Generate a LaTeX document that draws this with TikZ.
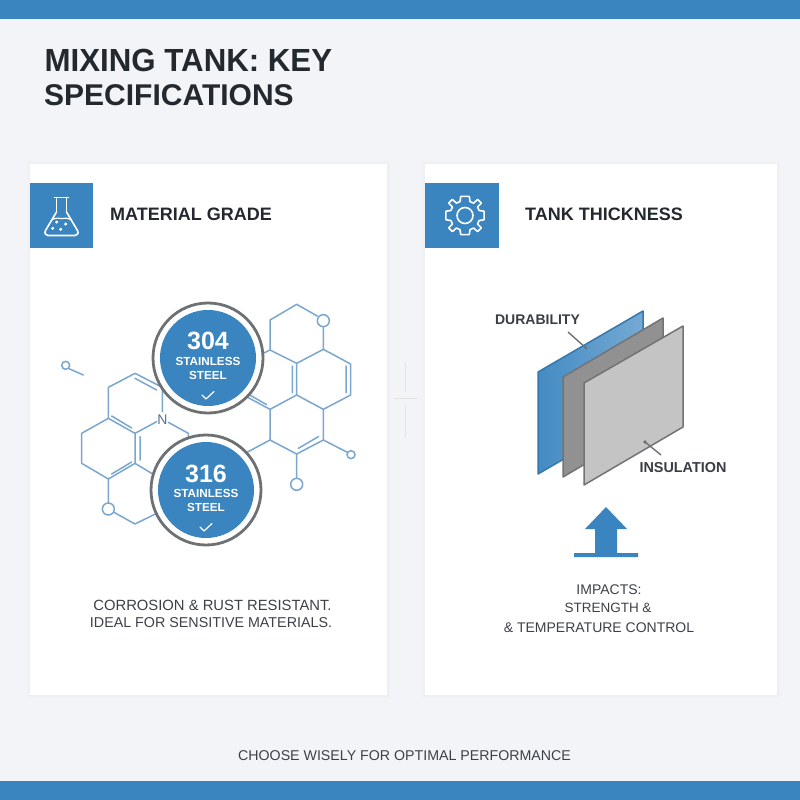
\documentclass[tikz,border=0pt]{standalone}
\usepackage{fontspec}
\setmainfont{Liberation Sans}
\definecolor{bgc}{HTML}{F2F4F7}
\definecolor{barc}{HTML}{3A85C0}
\definecolor{bluec}{HTML}{3A85C0}
\definecolor{molc}{HTML}{7AA6CF}
\definecolor{inkc}{HTML}{24292F}
\definecolor{bodyc}{HTML}{3D4147}
\definecolor{ringc}{HTML}{6E7174}
\newcommand{\fs}[1]{\fontsize{#1}{#1}\selectfont}
\newcommand{\Z}[2]{({40+(#1)/3},{280+(#2)/3})}
\tikzset{
  cardbox/.style={fill=white,draw=none},
  headbox/.style={fill=bluec,draw=none},
  mol/.style={draw=molc,line width=1.5pt,line join=round,line cap=round},
  atom/.style={draw=molc,line width=1.5pt,fill=white},
  titletext/.style={font=\fs{32}\bfseries,text=inkc,anchor=west,inner sep=0pt},
  headtext/.style={font=\fs{18}\bfseries,text=inkc,anchor=west,inner sep=0pt},
  bodytext/.style={font=\fs{14},text=bodyc,anchor=center,inner sep=0pt},
  calltext/.style={font=\fs{14}\bfseries,text=inkc!90!white,anchor=center,inner sep=0pt},
  badgeblue/.style={circle,fill=bluec,draw=none,minimum size=96pt,inner sep=0pt},
  badgering/.style={circle,fill=white,draw=ringc,line width=2.8pt,minimum size=110pt,inner sep=0pt},
  badgenum/.style={text=white,font=\fs{25}\bfseries,inner sep=0pt},
  badgesub/.style={text=white,font=\fs{11.7}\bfseries,inner sep=0pt},
  leader/.style={draw=ringc,line width=1.4pt},
  iconline/.style={draw=white,line width=1.6pt,line join=round,line cap=round},
}
\begin{document}
\begin{tikzpicture}[x=1pt,y=-1pt]
\useasboundingbox (0,0) rectangle (800,800);
\fill[bgc] (0,0) rectangle (800,800);
\fill[barc] (0,0) rectangle (800,19);
\fill[barc] (0,781) rectangle (800,800);
% faint cross between the cards
\draw[draw=black!11,line width=1pt] (405.7,362)--(405.7,392) (405.7,405)--(405.7,438) (394,398.7)--(417,398.7);
% title
\node[titletext] (t1) at (44.5,60) {\scalebox{.976}[1]{MIXING TANK: KEY}};
\node[titletext,font=\fs{30}\bfseries] (t2) at (44,95.5) {SPECIFICATIONS};
% cards
\foreach \d/\o in {3/.008,1.5/.012}{
  \fill[black,opacity=\o] (30-\d,164-\d) rectangle (387+\d,695+\d);
  \fill[black,opacity=\o] (425-\d,164-\d) rectangle (777+\d,695+\d);
}
\node[cardbox,minimum width=357pt,minimum height=531pt,inner sep=0pt] (cardL) at (208.5,429.5) {};
\node[cardbox,minimum width=352pt,minimum height=531pt,inner sep=0pt] (cardR) at (601,429.5) {};
% header icons
\node[headbox,minimum width=63pt,minimum height=65pt,inner sep=0pt] (iconL) at (61.5,215.5) {};
\node[headbox,minimum width=74pt,minimum height=65pt,inner sep=0pt] (iconR) at (462,215.5) {};
\node[headtext] (hL) at (110,214.5) {MATERIAL GRADE};
\node[headtext] (hR) at (525,214.5) {TANK THICKNESS};
% flask
\draw[iconline] (54.5,197.5)--(68.5,197.5) (56.5,197.5)--(56.5,212) (66.5,197.5)--(66.5,212);
\draw[iconline] (56.5,212)--(45.5,230.5) .. controls (44,233.5) and (46,235.5) .. (48,235.5)--(75,235.5) .. controls (77,235.5) and (79,233.5) .. (77.5,230.5)--(66.5,212);
\draw[iconline,line width=1.2pt] (52,219.5) .. controls (56,217.5) and (60,218.5) .. (62,218.5) .. controls (65,218.5) and (68,217.5) .. (71,219.5);
\foreach \p in {(52.7,228.3),(60.7,229.3),(56.7,222),(65.7,224)}\fill[white] \p circle (1.7);
% gear
\begin{scope}[shift={(465,215.5)}]
\draw[iconline] plot[smooth cycle,tension=.12] coordinates {
 (-4.2,-19)(4.2,-19)(5,-14)(8.6,-12.4)
 (12.6,-16)(16.2,-12.4)(12.6,-8.6)(14.2,-5)
 (19,-4.2)(19,4.2)(14.2,5)(12.6,8.6)
 (16.2,12.4)(12.6,16)(8.6,12.6)(5,14.2)
 (4.2,19)(-4.2,19)(-5,14.2)(-8.6,12.6)
 (-12.6,16)(-16.2,12.4)(-12.6,8.6)(-14.2,5)
 (-19,4.2)(-19,-4.2)(-14.2,-5)(-12.6,-8.6)
 (-16.2,-12.4)(-12.6,-16)(-8.6,-12.4)(-5,-14)};
\draw[iconline] (0,0) circle (8);
\end{scope}
% right molecule
\draw[mol] \Z{690}{210}--\Z{690}{120}--\Z{770}{73}--\Z{832}{108};
\draw[mol] \Z{850}{140}--\Z{850}{208}--\Z{770}{250}--\Z{690}{210}--\Z{640}{235};
\draw[mol] \Z{850}{208}--\Z{932}{252}--\Z{932}{345}--\Z{850}{388}--\Z{770}{345}--\Z{770}{250};
\draw[mol] \Z{770}{345}--\Z{690}{388}--\Z{610}{345};
\draw[mol] \Z{850}{388}--\Z{850}{480}--\Z{770}{522}--\Z{690}{480}--\Z{690}{388};
\draw[mol] \Z{690}{480}--\Z{600}{528};
\draw[mol] \Z{757}{258}--\Z{757}{338} \Z{918}{258}--\Z{918}{338} \Z{680}{374}--\Z{615}{337} \Z{775}{505}--\Z{835}{470};
\draw[mol] \Z{850}{480}--\Z{922}{517} \Z{770}{522}--\Z{770}{596};
\node[atom,circle,minimum size=12pt,inner sep=0pt] (o1) at \Z{850}{122} {};
\node[atom,circle,minimum size=12pt,inner sep=0pt] (o2) at \Z{770}{613} {};
\node[atom,circle,minimum size=8pt,inner sep=0pt] (o3) at \Z{933}{524} {};
% left molecule
\draw[mol] \Z{367}{395}--\Z{367}{322}--\Z{285}{280}--\Z{205}{322}--\Z{205}{415}--\Z{125}{460}--\Z{125}{550}--\Z{205}{597}--\Z{285}{550}--\Z{285}{460}--\Z{205}{415};
\draw[mol] \Z{285}{460}--\Z{350}{425} \Z{385}{427}--\Z{445}{460}--\Z{445}{500};
\draw[mol] \Z{285}{295}--\Z{350}{330} \Z{215}{408}--\Z{275}{444} \Z{300}{470}--\Z{300}{540} \Z{215}{582}--\Z{275}{546};
\draw[mol] \Z{285}{550}--\Z{360}{595} \Z{205}{597}--\Z{205}{670} \Z{222}{697}--\Z{285}{732}--\Z{350}{700};
\node[atom,circle,minimum size=12pt,inner sep=0pt] (o4) at \Z{205}{687} {};
\node[text=molc!70!black,font=\fs{14},inner sep=0pt] (n1) at \Z{367}{418} {N};
\node[atom,circle,minimum size=8pt,inner sep=0pt] (o5) at ({40+77/3},{280+256/3}) {};
\coordinate (free1) at ({40+130/3},{280+285/3});
\draw[mol] (o5.south east)--(free1);
% badges
\node[badgering] (r304) at (208,358) {};
\node[badgeblue] (b304) at (208,358) {};
\node[badgering] (r316) at (206,490) {};
\node[badgeblue] (b316) at (206,490) {};
\node[badgenum] (n304) at (208,341) {304};
\node[badgesub] (s304) at (208,361.5) {STAINLESS};
\node[badgesub] (e304) at (208,375.5) {STEEL};
\node[badgenum] (n316) at (206,473.5) {316};
\node[badgesub] (s316) at (206,493.5) {STAINLESS};
\node[badgesub] (e316) at (206,507.5) {STEEL};
\draw[iconline,line width=1.2pt] (202,395)--(206,399)--(214,391.5);
\draw[iconline,line width=1.2pt] (200,527)--(204,531)--(212,523.5);
% body text left
\node[bodytext,font=\fs{14.8}] (bl1) at (212.5,605) {CORROSION \& RUST RESISTANT.};
\node[bodytext,font=\fs{14.3}] (bl2) at (211,623) {IDEAL FOR SENSITIVE MATERIALS.};
% plates
\draw[draw=bluec!90!black,line width=1.5pt,line join=round,left color=bluec!95!white,right color=bluec!70!white] (538,372)--(643,311)--(643,413)--(538,474)--cycle;
\draw[draw=black!55,line width=1.5pt,line join=round,fill=black!43] (563,377)--(663,318)--(663,418)--(563,477)--cycle;
\draw[draw=black!55,line width=1.5pt,line join=round,fill=black!23] (584,383)--(683,326)--(683,427)--(584,485)--cycle;
\node[calltext] (dur) at (537.5,319.5) {DURABILITY};
\node[calltext,font=\fs{14.4}\bfseries] (ins) at (683,467.5) {INSULATION};
\coordinate (durend) at (586,348);
\coordinate (insend) at (645,442);
\draw[leader] (568,332)--(durend);
\fill[ringc] (durend) circle (1.5);
\draw[leader] (661,455)--(insend);
\fill[ringc] (insend) circle (1.8);
% arrow
\fill[bluec] (606,507)--(627,529)--(617,529)--(617,553)--(638,553)--(638,557)--(574,557)--(574,553)--(595,553)--(595,529)--(585,529)--cycle;
% body text right
\node[bodytext] (br1) at (609,589.7) {IMPACTS:};
\node[bodytext,font=\fs{13.5}] (br2) at (608,608) {STRENGTH \&};
\node[bodytext] (br3) at (599,627.5) {\& TEMPERATURE CONTROL};
% footer
\node[bodytext,font=\fs{14.2}] (foot) at (404.5,756) {CHOOSE WISELY FOR OPTIMAL PERFORMANCE};
\end{tikzpicture}
\end{document}
